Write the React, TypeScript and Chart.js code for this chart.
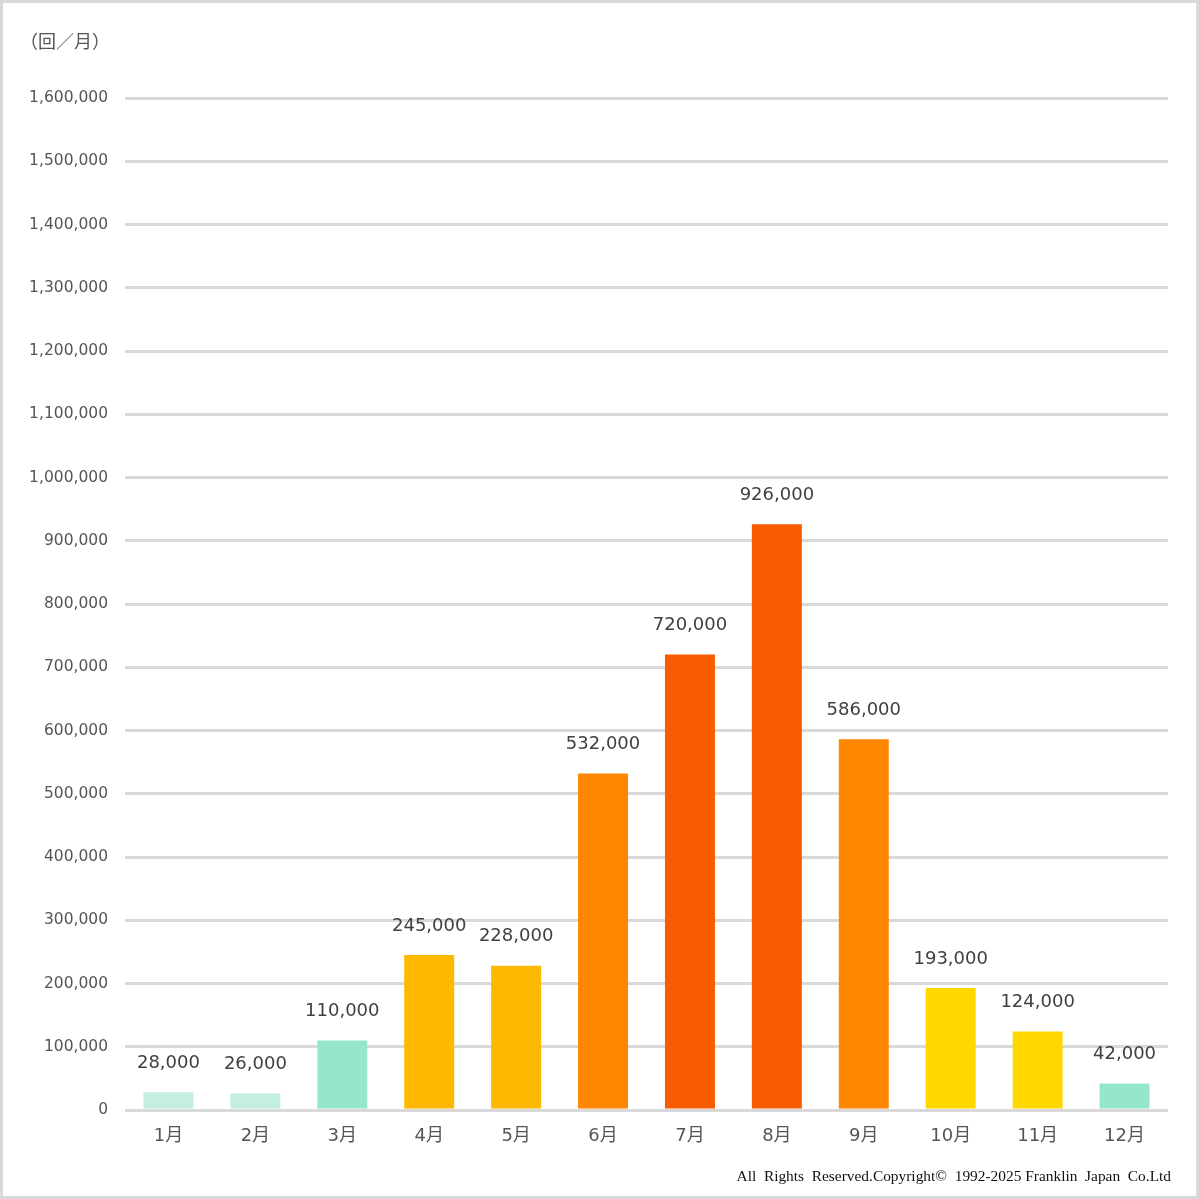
import React, { useEffect, useRef } from "react";
import { Chart, registerables } from "chart.js";

Chart.register(...registerables);

const categories = ["1月", "2月", "3月", "4月", "5月", "6月", "7月", "8月", "9月", "10月", "11月", "12月"];
const values = [28000, 26000, 110000, 245000, 228000, 532000, 720000, 926000, 586000, 193000, 124000, 42000];
const barColors = [
  "#c4eee0", "#c4eee0", "#94e8c9", "#ffb800", "#ffb800", "#ff8800",
  "#f75c00", "#f75c00", "#ff8800", "#ffd800", "#ffd800", "#94e8c9",
];
const unitLabel = "（回／月）";
const copyright = "All  Rights  Reserved.Copyright©  1992-2025 Franklin  Japan  Co.Ltd";
const yMax = 1600000;
const yStep = 100000;

const sans = "'DejaVu Sans', 'Noto Sans CJK JP', sans-serif";

const overlayPlugin = {
  id: "overlay",
  afterDatasetsDraw(chart: any) {
    const ctx = chart.ctx;
    const meta = chart.getDatasetMeta(0);
    ctx.save();
    ctx.fillStyle = "#404040";
    ctx.font = `18px ${sans}`;
    ctx.textAlign = "center";
    ctx.textBaseline = "middle";
    meta.data.forEach((bar: any, i: number) => {
      const v = values[i];
      ctx.fillText(v.toLocaleString("en-US"), bar.x, bar.y - 29);
    });
    ctx.restore();
  },
  afterDraw(chart: any) {
    const ctx = chart.ctx;
    ctx.save();
    ctx.fillStyle = "#555555";
    ctx.font = `18px 'Noto Sans CJK JP', sans-serif`;
    ctx.textAlign = "left";
    ctx.textBaseline = "middle";
    ctx.fillText(unitLabel, 20, 41);
    ctx.fillStyle = "#111111";
    ctx.font = `15.4px 'Liberation Serif', 'Times New Roman', serif`;
    ctx.textAlign = "right";
    ctx.textBaseline = "alphabetic";
    ctx.fillText(copyright, 1171, 1181);
    ctx.restore();
  },
};

export default function App() {
  const ref = useRef<HTMLCanvasElement | null>(null);
  useEffect(() => {
    if (!ref.current) return;
    const chart = new Chart(ref.current, {
      type: "bar",
      data: {
        labels: categories,
        datasets: [
          {
            data: values,
            backgroundColor: barColors,
            borderWidth: 0,
            barPercentage: 0.575,
            categoryPercentage: 1,
          },
        ],
      },
      options: {
        animation: false,
        responsive: false,
        maintainAspectRatio: false,
        devicePixelRatio: 1,
        layout: { padding: { top: 98, right: 31, bottom: 0, left: 0 } },
        plugins: { legend: { display: false }, tooltip: { enabled: false } },
        scales: {
          x: {
            grid: { display: false, drawTicks: false },
            border: { display: false },
            ticks: { color: "#555555", font: { size: 18, family: sans }, padding: 16, maxRotation: 0 },
            afterFit(scale: any) {
              scale.height = 89;
            },
          },
          y: {
            min: 0,
            max: yMax,
            grid: { color: "#d9d9d9", lineWidth: 3, drawTicks: false },
            border: { display: false },
            ticks: {
              stepSize: yStep,
              color: "#555555",
              font: { size: 15.5, family: sans },
              padding: 17,
              callback: (v: any) => Number(v).toLocaleString("en-US"),
            },
            afterFit(scale: any) {
              scale.width = 125;
            },
          },
        },
      },
      plugins: [overlayPlugin],
    });
    return () => chart.destroy();
  }, []);

  return (
    <div
      style={{
        position: "fixed",
        left: 0,
        top: 0,
        width: 1199,
        height: 1199,
        boxSizing: "border-box",
        background: "#ffffff",
      }}
    >
      <canvas ref={ref} width={1199} height={1199} style={{ position: "absolute", left: 0, top: 0, width: 1199, height: 1199 }} />
      <div
        style={{
          position: "absolute",
          left: 0,
          top: 0,
          width: 1199,
          height: 1199,
          boxSizing: "border-box",
          border: "3px solid #d9d9d9",
          pointerEvents: "none",
        }}
      />
    </div>
  );
}
